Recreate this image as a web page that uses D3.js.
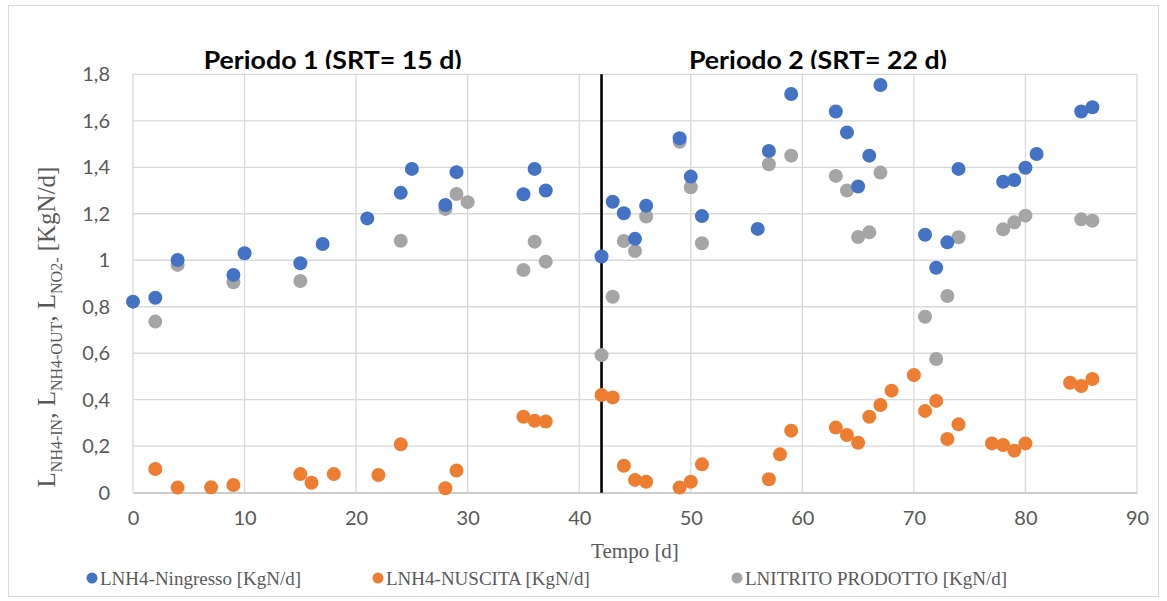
<!DOCTYPE html>
<html>
<head>
<meta charset="utf-8">
<script src="https://cdn.jsdelivr.net/npm/d3@7"></script>
<style>
  html, body { margin: 0; padding: 0; background: #fff; }
  svg { display: block; }
</style>
</head>
<body>
<svg id="chart" width="1167" height="601"></svg>
<script>
// Ammonium loads in/out and nitrite produced over time (days)
const daysIn   = [0, 2, 4, 9, 10, 15, 17, 21, 24, 25, 28, 29, 35, 36, 37, 42, 43, 44, 45, 46, 49, 50, 51, 56, 57, 59, 63, 64, 65, 66, 67, 71, 72, 73, 74, 78, 79, 80, 81, 85, 86];
const nh4In    = [0.822, 0.839, 1.001, 0.937, 1.03, 0.987, 1.07, 1.18, 1.29, 1.393, 1.238, 1.379, 1.284, 1.393, 1.30, 1.016, 1.252, 1.202, 1.092, 1.235, 1.525, 1.36, 1.19, 1.135, 1.47, 1.715, 1.64, 1.55, 1.317, 1.45, 1.754, 1.11, 0.968, 1.077, 1.393, 1.338, 1.345, 1.398, 1.457, 1.64, 1.658];

const daysOut  = [2, 4, 7, 9, 15, 16, 18, 22, 24, 28, 29, 35, 36, 37, 42, 43, 44, 45, 46, 49, 50, 51, 57, 58, 59, 63, 64, 65, 66, 67, 68, 70, 71, 72, 73, 74, 77, 78, 79, 80, 84, 85, 86];
const nh4Out   = [0.102, 0.022, 0.023, 0.033, 0.08, 0.043, 0.08, 0.076, 0.208, 0.019, 0.095, 0.327, 0.309, 0.306, 0.42, 0.41, 0.116, 0.055, 0.047, 0.022, 0.047, 0.122, 0.058, 0.165, 0.267, 0.28, 0.248, 0.215, 0.327, 0.377, 0.439, 0.506, 0.352, 0.395, 0.231, 0.294, 0.212, 0.205, 0.181, 0.212, 0.473, 0.459, 0.489];

const daysNo2  = [2, 4, 9, 15, 24, 28, 29, 30, 35, 36, 37, 42, 43, 44, 45, 46, 49, 50, 51, 57, 59, 63, 64, 65, 66, 67, 71, 72, 73, 74, 78, 79, 80, 85, 86];
const no2Prod  = [0.736, 0.98, 0.905, 0.911, 1.084, 1.221, 1.285, 1.25, 0.958, 1.08, 0.994, 0.592, 0.843, 1.083, 1.04, 1.188, 1.51, 1.314, 1.073, 1.413, 1.45, 1.363, 1.30, 1.10, 1.12, 1.377, 0.757, 0.575, 0.846, 1.099, 1.133, 1.163, 1.192, 1.176, 1.17];

const seriesNames = ["LNH4-Ningresso [KgN/d]", "LNH4-NUSCITA [KgN/d]", "LNITRITO PRODOTTO [KgN/d]"];
const seriesColors = ["#4472C4", "#ED7D31", "#A5A5A5"];

const xTicks = [0, 10, 20, 30, 40, 50, 60, 70, 80, 90];
const yTicks = [0, 0.2, 0.4, 0.6, 0.8, 1.0, 1.2, 1.4, 1.6, 1.8];

const periodSplit = 42;
const periodLabels = [
  { text: "Periodo 1 (SRT= 15 d)", at: 17.9 },
  { text: "Periodo 2 (SRT= 22 d)", at: 61.4 }
];

const svg = d3.select("#chart");
const W = 1167, H = 601;
const plot = { left: 133, right: 1137, top: 74.3, bottom: 492.7 };

const x = d3.scaleLinear().domain([0, 90]).range([plot.left, plot.right]);
const y = d3.scaleLinear().domain([0, 1.8]).range([plot.bottom, plot.top]);

const fmt = d => (d === 0 ? "0" : d === 1 ? "1" : d3.format(".1f")(d).replace(".", ","));

// chart frame
svg.append("rect")
  .attr("x", 8.5).attr("y", 5.5)
  .attr("width", W - 17).attr("height", H - 10)
  .attr("fill", "#fff").attr("stroke", "#d9d9d9").attr("stroke-width", 1);

// gridlines
const grid = svg.append("g");
grid.selectAll("line.h").data(yTicks).join("line")
  .attr("x1", plot.left).attr("x2", plot.right)
  .attr("y1", d => y(d)).attr("y2", d => y(d))
  .attr("stroke", "#d9d9d9").attr("stroke-width", 1.3);
grid.selectAll("line.v").data(xTicks).join("line")
  .attr("x1", d => x(d)).attr("x2", d => x(d))
  .attr("y1", plot.top).attr("y2", plot.bottom)
  .attr("stroke", "#d9d9d9").attr("stroke-width", 1.3);

// axes (labels only, Excel-like)
const yAxis = d3.axisLeft(y).tickValues(yTicks).tickFormat(fmt).tickSize(0).tickPadding(23);
svg.append("g").attr("transform", `translate(${plot.left},0)`).call(yAxis)
  .call(g => g.select(".domain").remove())
  .call(g => g.selectAll("text").attr("font-family", "Lato, 'Open Sans', sans-serif")
    .attr("font-size", 20).attr("fill", "#595959"));

const xAxis = d3.axisBottom(x).tickValues(xTicks).tickFormat(d3.format("d")).tickSize(0).tickPadding(18);
svg.append("g").attr("transform", `translate(0,${plot.bottom})`).call(xAxis)
  .call(g => g.select(".domain").attr("stroke", "#bfbfbf").attr("stroke-width", 1.3))
  .call(g => g.selectAll("text").attr("font-family", "Lato, 'Open Sans', sans-serif")
    .attr("font-size", 20).attr("fill", "#595959"));

// period boundary
svg.append("line")
  .attr("x1", x(periodSplit)).attr("x2", x(periodSplit))
  .attr("y1", y(1.8)).attr("y2", y(0))
  .attr("stroke", "#000").attr("stroke-width", 2.6);

// period titles, clipped at the top of the plot like their text boxes
svg.append("clipPath").attr("id", "titleClip")
  .append("rect").attr("x", 0).attr("y", 0).attr("width", W).attr("height", 69);
svg.append("g").attr("clip-path", "url(#titleClip)")
  .selectAll("text").data(periodLabels).join("text")
  .attr("x", d => x(d.at)).attr("y", 68.5)
  .attr("text-anchor", "middle")
  .attr("font-family", "Lato, 'Open Sans', sans-serif")
  .attr("font-weight", "bold").attr("font-size", 25).attr("fill", "#000")
  .attr("textLength", 258).attr("lengthAdjust", "spacingAndGlyphs")
  .text(d => d.text);

// data
const series = [
  { days: daysIn, vals: nh4In },
  { days: daysOut, vals: nh4Out },
  { days: daysNo2, vals: no2Prod }
];
const order = [2, 1, 0]; // nitrite drawn first, ammonium-in on top
order.forEach(i => {
  const s = series[i];
  svg.append("g").selectAll("circle")
    .data(s.days.map((d, k) => [d, s.vals[k]]))
    .join("circle")
    .attr("cx", d => x(d[0])).attr("cy", d => y(d[1]))
    .attr("r", 7).attr("fill", seriesColors[i]);
});

// y-axis title with subscripts
const yt = svg.append("text")
  .attr("transform", "translate(55,327) rotate(-90)")
  .attr("text-anchor", "middle")
  .attr("font-family", "'Liberation Serif', 'Times New Roman', serif")
  .attr("font-size", 25).attr("fill", "#595959");
const parts = [["L", false], ["NH4-IN", true], [", L", false], ["NH4-OUT", true], [", L", false], ["NO2-", true], [" [KgN/d]", false]];
let shifted = false;
parts.forEach(([t, sub]) => {
  const ts = yt.append("tspan").text(t);
  if (sub) { ts.attr("font-size", 16); if (!shifted) { ts.attr("dy", 7); shifted = true; } }
  else if (shifted) { ts.attr("dy", -7); shifted = false; }
});

// x-axis title
svg.append("text")
  .attr("x", 635).attr("y", 558)
  .attr("text-anchor", "middle")
  .attr("font-family", "'Liberation Serif', 'Times New Roman', serif")
  .attr("font-size", 21).attr("fill", "#595959")
  .text("Tempo [d]");

// legend
const legendX = [92, 378, 737];
const lg = svg.append("g").selectAll("g").data(seriesNames).join("g")
  .attr("transform", (d, i) => `translate(${legendX[i]},578)`);
lg.append("circle").attr("r", 5.5).attr("fill", (d, i) => seriesColors[i]);
lg.append("text").attr("x", 8).attr("y", 6.5)
  .attr("font-family", "'Liberation Serif', 'Times New Roman', serif")
  .attr("font-size", 19).attr("fill", "#595959")
  .text(d => d);
</script>
</body>
</html>
